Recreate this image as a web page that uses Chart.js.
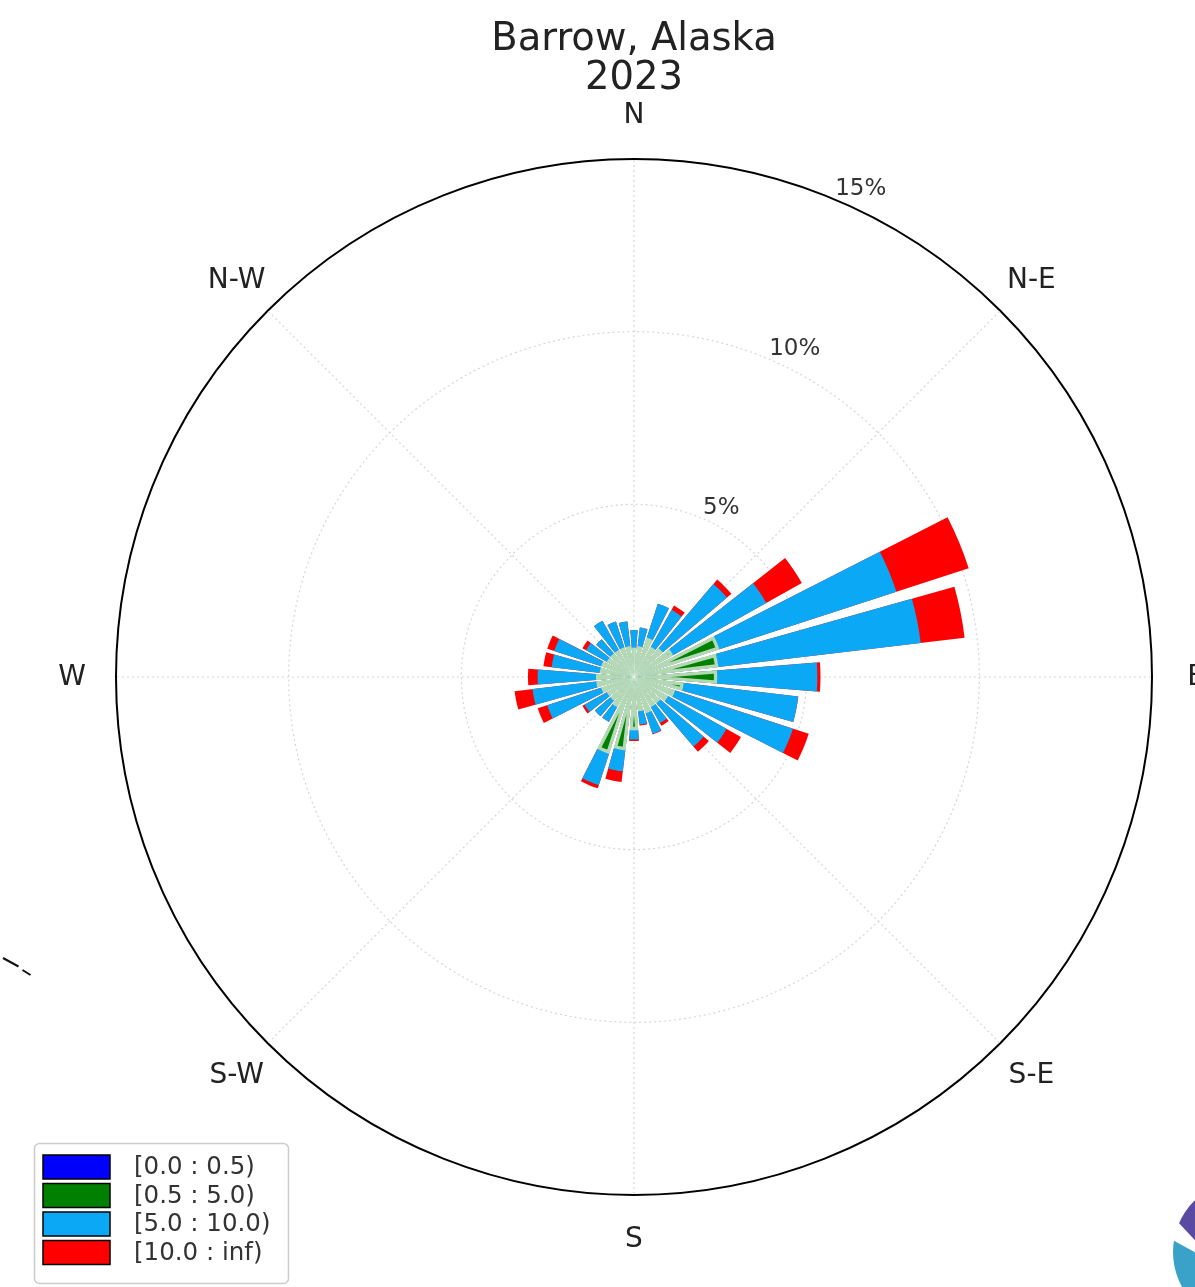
<!DOCTYPE html>
<html>
<head>
<meta charset="utf-8">
<title>Barrow, Alaska wind rose 2023</title>
<script src="https://cdn.jsdelivr.net/npm/chart.js@4.4.1/dist/chart.umd.min.js"></script>
<style>
  html, body { margin: 0; padding: 0; background: #ffffff; }
  canvas { display: block; }
</style>
</head>
<body>
<canvas id="rose" width="1195" height="1287" style="width:1195px;height:1287px"></canvas>
<script>
// Wind rose: 32 sectors, clockwise from north, frequency in percent per speed bin (m/s)
const titleLines = ['Barrow, Alaska', '2023'];
const compassLabels = ['N', 'N-E', 'E', 'S-E', 'S', 'S-W', 'W', 'N-W'];
const binLabels = ['[0.0 : 0.5)', '[0.5 : 5.0)', '[5.0 : 10.0)', '[10.0 : inf)'];
const binColors = ['#0000ff', '#008000', '#0aa8f5', '#ff0000'];
const ringValues = [5, 10, 15];
const ringLabels = ['5%', '10%', '15%'];

// speed bin [0.0 : 0.5)
const calmFreq = [0, 0, 0, 0, 0, 0, 0, 0, 0, 0, 0, 0, 0, 0, 0, 0,
                  0, 0, 0, 0, 0, 0, 0, 0, 0, 0, 0, 0, 0, 0, 0, 0];
// speed bin [0.5 : 5.0)
const lightFreq = [0.85, 0.90, 1.20, 1.00, 1.10, 1.30, 2.60, 2.46, 2.41, 1.45, 1.25, 1.13, 1.00, 1.00, 1.10, 1.00,
                   1.54, 2.14, 2.34, 1.00, 0.90, 0.90, 1.00, 1.10, 1.10, 1.00, 1.00, 0.90, 0.90, 0.90, 0.90, 0.90];
// speed bin [5.0 : 10.0)
const moderateFreq = [0.52, 0.55, 1.04, 1.24, 2.45, 3.10, 5.40, 5.91, 2.91, 3.35, 3.60, 1.95, 1.66, 0.54, 0.64, 0.40,
                      0.28, 0.62, 0.96, 0.50, 0.60, 0.75, 1.65, 1.87, 1.70, 1.41, 1.44, 0.70, 0.55, 0.98, 0.80, 0.73];
// speed bin [10.0 : inf)
const strongFreq = [0, 0, 0, 0.14, 0.17, 1.18, 2.20, 1.28, 0.09, 0, 0.48, 0.48, 0.20, 0.09, 0.02, 0.03,
                    0.04, 0.31, 0.10, 0, 0, 0.07, 0.29, 0.52, 0.28, 0.24, 0.21, 0.12, 0, 0, 0, 0];

const SECTORS = 32;
const OPENING = 0.8;
const sectorWidth = 360 / SECTORS;
const wedgeWidth = sectorWidth * OPENING;
const gapWidth = sectorWidth - wedgeWidth;

// Slices run from north clockwise: the north wedge is split in two halves so
// the radial axis can start at 0 deg; empty slices form the gaps between wedges.
function expandSectors(vals) {
  const out = [vals[0]];
  for (let j = 1; j < SECTORS; j++) out.push(0, vals[j]);
  out.push(0, vals[0]);
  return out;
}
const sliceAngles = [wedgeWidth / 2];
for (let j = 1; j < SECTORS; j++) sliceAngles.push(gapWidth, wedgeWidth);
sliceAngles.push(gapWidth, wedgeWidth / 2);

// Stacked bars: each bin is drawn as the cumulative total up to that bin,
// outer bins underneath, inner bins on top.
const bins = [calmFreq, lightFreq, moderateFreq, strongFreq];
const cumulative = bins.map((_, b) =>
  calmFreq.map((__, j) => bins.slice(0, b + 1).reduce((s, arr) => s + arr[j], 0)));

const datasets = bins.map((_, b) => ({
  label: binLabels[b],
  data: expandSectors(cumulative[b]),
  backgroundColor: binColors[b],
  borderColor: 'rgba(255,255,255,0.7)',
  borderAlign: 'inner',
  borderWidth: b === 1 ? (ctx => (ctx.raw > 0 ? 3 : 0)) : 0,
  angle: ctx => sliceAngles[ctx.dataIndex]
}));

const roseDecor = {
  id: 'roseDecor',
  afterDraw(chart) {
    const ctx = chart.ctx;
    const r = chart.scales.r;
    ctx.save();

    // compass labels around the outer ring
    ctx.font = '28px "DejaVu Sans"';
    ctx.fillStyle = '#222222';
    ctx.textAlign = 'center';
    ctx.textBaseline = 'middle';
    chart.data.labels.forEach((lab, i) => {
      const p = r.getPointPosition(i, r.drawingArea + 44);
      ctx.fillText(lab, p.x, p.y + 1);
    });

    // ring percentage labels along 22.5 deg
    ctx.font = '23px "DejaVu Sans"';
    ctx.fillStyle = '#333333';
    ctx.textAlign = 'left';
    ctx.textBaseline = 'alphabetic';
    const a = 22.5 * Math.PI / 180;
    ringValues.forEach((v, i) => {
      const d = r.getDistanceFromCenterForValue(v);
      const x = r.xCenter + d * Math.sin(a);
      const y = r.yCenter - d * Math.cos(a);
      ctx.fillText(ringLabels[i], x + 3, y - 3);
    });

    // legend box
    const bx = 34.5, by = 1143.5, bw = 254, bh = 140, rad = 5;
    ctx.beginPath();
    ctx.moveTo(bx + rad, by);
    ctx.arcTo(bx + bw, by, bx + bw, by + bh, rad);
    ctx.arcTo(bx + bw, by + bh, bx, by + bh, rad);
    ctx.arcTo(bx, by + bh, bx, by, rad);
    ctx.arcTo(bx, by, bx + bw, by, rad);
    ctx.closePath();
    ctx.fillStyle = 'rgba(255,255,255,0.8)';
    ctx.fill();
    ctx.strokeStyle = '#cccccc';
    ctx.lineWidth = 1.5;
    ctx.stroke();

    ctx.font = '24.5px "DejaVu Sans"';
    ctx.textBaseline = 'middle';
    binLabels.forEach((lab, i) => {
      const py = 1155 + i * 28.5;
      ctx.fillStyle = binColors[i];
      ctx.fillRect(43, py, 67, 24);
      ctx.strokeStyle = '#000000';
      ctx.lineWidth = 1.5;
      ctx.strokeRect(43, py, 67, 24);
      ctx.fillStyle = '#333333';
      ctx.fillText(lab, 134, py + 13);
    });

    // short dashed stroke at the left margin
    ctx.strokeStyle = '#111111';
    ctx.lineWidth = 2;
    ctx.beginPath();
    ctx.moveTo(3, 958); ctx.lineTo(18.5, 966.5);
    ctx.moveTo(22.5, 970); ctx.lineTo(30.5, 975);
    ctx.stroke();

    // corner emblem, partly outside the canvas
    const cx = 1245, cy = 1252, cr = 72;
    ctx.save();
    ctx.beginPath();
    ctx.arc(cx, cy, cr, 0, Math.PI * 2);
    ctx.clip();
    ctx.fillStyle = '#3aa2c8';
    ctx.beginPath();
    ctx.moveTo(1160, 1233); ctx.lineTo(1320, 1321); ctx.lineTo(1320, 1340); ctx.lineTo(1160, 1340);
    ctx.closePath();
    ctx.fill();
    ctx.fillStyle = '#5a4aa2';
    ctx.beginPath();
    ctx.moveTo(1160, 1203); ctx.lineTo(1320, 1373); ctx.lineTo(1320, 1150); ctx.lineTo(1160, 1150);
    ctx.closePath();
    ctx.fill();
    ctx.restore();

    ctx.restore();
  }
};

new Chart(document.getElementById('rose'), {
  type: 'polarArea',
  data: { labels: compassLabels, datasets },
  options: {
    responsive: false,
    animation: false,
    devicePixelRatio: 1,
    layout: { padding: { left: 116, right: 43, top: 0, bottom: 92 } },
    plugins: {
      legend: { display: false },
      tooltip: { enabled: false },
      title: {
        display: true,
        text: titleLines,
        color: '#222222',
        font: { family: 'DejaVu Sans', size: 38.5, weight: 'normal', lineHeight: 39 / 38.5 },
        padding: { top: 20, bottom: 61 }
      }
    },
    scales: {
      r: {
        min: 0,
        max: 15,
        startAngle: 0,
        ticks: { display: false, stepSize: 5 },
        grid: {
          circular: true,
          color: c => (c.tick.value >= 15 ? '#000000' : '#d6d6d6'),
          lineWidth: c => (c.tick.value >= 15 ? 2 : 1.2)
        },
        border: { dash: c => (c.tick.value >= 15 ? [] : [2, 3]) },
        angleLines: { display: true, color: '#d6d6d6', lineWidth: 1.2, borderDash: [2, 3] },
        pointLabels: { display: false }
      }
    }
  },
  plugins: [roseDecor]
});
</script>
</body>
</html>
